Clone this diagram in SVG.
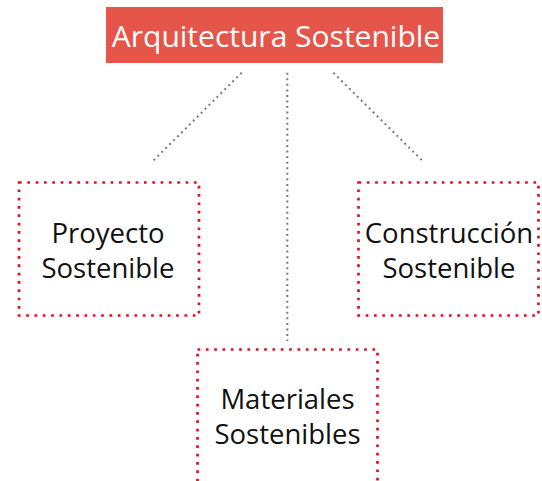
<svg xmlns="http://www.w3.org/2000/svg" width="542" height="481" viewBox="0 0 542 481">
<style>
.lbl{font-family:"Open Sans","Noto Sans","Liberation Sans",sans-serif;font-size:27.5px;fill:#111;text-anchor:middle}
.ttl{font-family:"Open Sans","Noto Sans","Liberation Sans",sans-serif;font-size:30px;fill:#fff;text-anchor:middle}
.box{fill:none;stroke:#e0111f;stroke-width:2.7;stroke-dasharray:2.7 5.63}
.con{fill:none;stroke:#7a7a7a;stroke-width:2;stroke-dasharray:2 3.56}
</style>
<rect width="542" height="481" fill="#fff"/>
<g id="connectors">
<line class="con" x1="241.7" y1="72.7" x2="151.7" y2="162.3"/>
<line class="con" x1="287.3" y1="72.7" x2="287.3" y2="341"/>
<line class="con" x1="333.3" y1="72.7" x2="424" y2="162.3"/>
</g>
<g id="title">
<rect x="106" y="7" width="337" height="56" fill="#e5554a"/>
<text class="ttl" x="276" y="46.5">Arquitectura Sostenible</text>
</g>
<g id="proyecto">
<rect class="box" x="19" y="182.5" width="180" height="133"/>
<text class="lbl" x="108" y="242.5">Proyecto</text>
<text class="lbl" x="108" y="277.5">Sostenible</text>
</g>
<g id="construccion">
<rect class="box" x="358.5" y="182.5" width="180" height="133"/>
<text class="lbl" x="449" y="242.5">Construcción</text>
<text class="lbl" x="449" y="277.5">Sostenible</text>
</g>
<g id="materiales">
<rect class="box" x="197.5" y="349.5" width="180" height="140"/>
<text class="lbl" x="287.5" y="408.5">Materiales</text>
<text class="lbl" x="287.5" y="443.5">Sostenibles</text>
</g>
</svg>
